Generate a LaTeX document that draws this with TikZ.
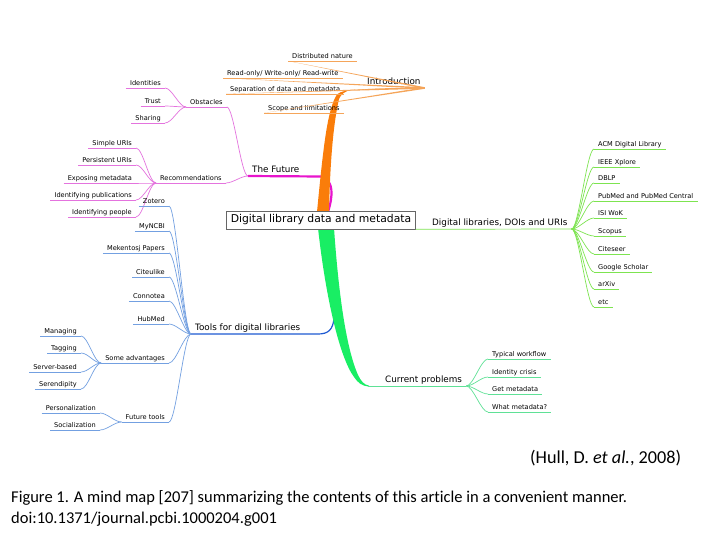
\documentclass[tikz,border=0pt]{standalone}
\usepackage{fontspec}
\setmainfont{DejaVu Sans}
\newfontfamily\capfont[Ligatures=NoCommon]{Carlito}
\usetikzlibrary{positioning}
\definecolor{introC}{RGB}{250,125,10}
\definecolor{introL}{RGB}{245,165,90}
\definecolor{futC}{RGB}{232,20,205}
\definecolor{futL}{RGB}{228,115,222}
\definecolor{toolC}{RGB}{30,90,210}
\definecolor{toolL}{RGB}{115,160,225}
\definecolor{probC}{RGB}{25,238,100}
\definecolor{probL}{RGB}{95,225,150}
\definecolor{libL}{RGB}{125,228,80}

\begin{document}
\begin{tikzpicture}[
  x=1pt, y=-1pt,
  every node/.style={font=\fontsize{6.6}{7}\selectfont, inner sep=0pt},
  leaf/.style={inner xsep=4pt, inner ysep=1pt, text height=4.8pt, text depth=1.6pt},
  topic/.style={font=\fontsize{8.8}{10}\selectfont, inner xsep=4pt, inner ysep=1.2pt, text height=6.6pt, text depth=2pt},
  uline/.style={line width=0.7pt},
  lbranch/.style={to path={.. controls +(-7,0) and +(7,0) .. (\tikztotarget)}},
  rbranch/.style={to path={.. controls +(7,0) and +(-7,0) .. (\tikztotarget)}}
]
\useasboundingbox[fill=white] (0,0) rectangle (728,546);

% Main topics
\node[topic, anchor=south west] (intro) at (363,88) {Introduction};
\node[topic, anchor=south west] (future) at (248,176) {The Future};
\node[topic, anchor=south west] (tools) at (191,334) {Tools for digital libraries};
\node[topic, anchor=south west] (dlib) at (428,229) {Digital libraries, DOIs and URIs};
\node[topic, anchor=south west] (problems) at (381,386) {Current problems};

% Trunks from the centre
\draw[futC, line width=2.2pt] (328,212) .. controls (333,196) and (334,181) .. (322,176.5) -- (future.south west);
\fill[introC] (317,212) .. controls (323,150) and (327,112) .. (336,96) .. controls (340,90) and (346,88.6) .. (intro.south east)
  -- (352,89.8) .. controls (345,91) and (341,94) .. (339,99) .. controls (333,125) and (330,165) .. (329,212) -- cycle;
\draw[toolC, line width=1.2pt] (326,226) .. controls (334,265) and (335,300) .. (334,318) .. controls (333,330) and (328,334) .. (318,334) -- (tools.south west);
\fill[probC] (318,228) .. controls (326,300) and (340,358) .. (354,377) .. controls (358,383) and (362,386) .. (369,386.6)
  -- (369,385.6) .. controls (364,385) and (361,381) .. (358,375) .. controls (347,350) and (339,300) .. (334,228) -- cycle;
\draw[probL, line width=0.8pt] (368,386) -- (problems.south east);

% Centre
\node[draw=black!60, fill=white, line width=0.6pt, font=\fontsize{10.8}{12}\selectfont, minimum height=18pt, inner xsep=4pt] (central) at (321,220) {Digital library data and metadata};
\draw[libL, uline] (central.south east) -- (dlib.south east);

% Introduction
\foreach \x/\y/\nm/\txt in {288/61/distrib/Distributed nature, 223/78/rw/{Read-only/ Write-only/ Read-write}, 226/94/separation/Separation of data and metadata, 264/113/scope/Scope and limitations} {
  \node[leaf, anchor=south west] (\nm) at (\x,\y) {\txt};
  \draw[introL, uline] (\nm.south west) -- (\nm.south east);
  \fill[introL] (\nm.south west) -- ([yshift=-0.8pt]intro.south east) -- ([yshift=0.8pt]intro.south east) -- cycle;
}

% The Future
\node[leaf, anchor=south west] (obstacles) at (186,107) {Obstacles};
\node[leaf, anchor=south west] (recomm) at (156,183) {Recommendations};
\foreach \n in {obstacles, recomm} {
  \draw[futL, uline] (\n.south west) -- (\n.south east);
  \draw[futL, uline] (future.south west) to[lbranch] (\n.south east);
}
\foreach \y/\nm/\txt in {88/identities/Identities, 106/trust/Trust, 123/sharing/Sharing} {
  \node[leaf, anchor=south east] (\nm) at (165,\y) {\txt};
  \draw[futL, uline] (\nm.south west) -- (\nm.south east);
  \draw[futL, uline] (obstacles.south west) to[lbranch] (\nm.south east);
}
\foreach \y/\nm/\txt in {148/simpleuri/Simple URIs, 165/persuri/Persistent URIs, 183/exposing/Exposing metadata, 200/idpub/Identifying publications, 217/idpeople/Identifying people} {
  \node[leaf, anchor=south east] (\nm) at (136,\y) {\txt};
  \draw[futL, uline] (\nm.south west) -- (\nm.south east);
  \draw[futL, uline] (recomm.south west) to[lbranch] (\nm.south east);
}

% Tools for digital libraries
\foreach \y/\nm/\txt in {206/zotero/Zotero, 231/myncbi/MyNCBI, 253/papers/Mekentosj Papers, 277/citeulike/Citeulike, 301/connotea/Connotea, 324/hubmed/HubMed, 363/advant/Some advantages, 422/futtools/Future tools} {
  \node[leaf, anchor=south east] (\nm) at (169,\y) {\txt};
  \draw[toolL, uline] (\nm.south west) -- (\nm.south east);
  \draw[toolL, uline] (tools.south west) to[lbranch] (\nm.south east);
}
\foreach \y/\nm/\txt in {336/managing/Managing, 353/tagging/Tagging, 372/server/Server-based, 389/serendip/Serendipity} {
  \node[leaf, anchor=south east] (\nm) at (81,\y) {\txt};
  \draw[toolL, uline] (\nm.south west) -- (\nm.south east);
  \draw[toolL, uline] (advant.south west) to[lbranch] (\nm.south east);
}
\foreach \y/\nm/\txt in {413/personal/Personalization, 430/social/Socialization} {
  \node[leaf, anchor=south east] (\nm) at (100,\y) {\txt};
  \draw[toolL, uline] (\nm.south west) -- (\nm.south east);
  \draw[toolL, uline] (futtools.south west) to[lbranch] (\nm.south east);
}

% Digital libraries, DOIs and URIs
\foreach \y/\nm/\txt in {149/acm/ACM Digital Library, 167/ieee/IEEE Xplore, 183/dblp/DBLP, 201/pubmed/PubMed and PubMed Central, 218/isi/ISI WoK, 236/scopus/Scopus, 254/citeseer/Citeseer, 272/scholar/Google Scholar, 289/arxiv/arXiv, 307/etc/etc} {
  \node[leaf, anchor=south west] (\nm) at (594,\y) {\txt};
  \draw[libL, uline] (\nm.south west) -- (\nm.south east);
  \draw[libL, uline] (dlib.south east) to[rbranch] (\nm.south west);
}

% Current problems
\foreach \y/\nm/\txt in {359/workflow/Typical workflow, 377/identity/Identity crisis, 394/getmeta/Get metadata, 412/whatmeta/What metadata?} {
  \node[leaf, anchor=south west] (\nm) at (488,\y) {\txt};
  \draw[probL, uline] (\nm.south west) -- (\nm.south east);
  \draw[probL, uline] (problems.south east) to[rbranch] (\nm.south west);
}

% Caption
\node[font=\capfont\fontsize{18.2}{21}\selectfont, anchor=west] (hull) at (530,458) {(Hull, D. \textit{et al.}, 2008)};
\node[font=\capfont\fontsize{16.5}{21}\selectfont, anchor=north west, align=left] (caption) at (11,490)
  {Figure 1. A mind map [207] summarizing the contents of this article in a convenient manner.\\doi:10.1371/journal.pcbi.1000204.g001};
\end{tikzpicture}
\end{document}
